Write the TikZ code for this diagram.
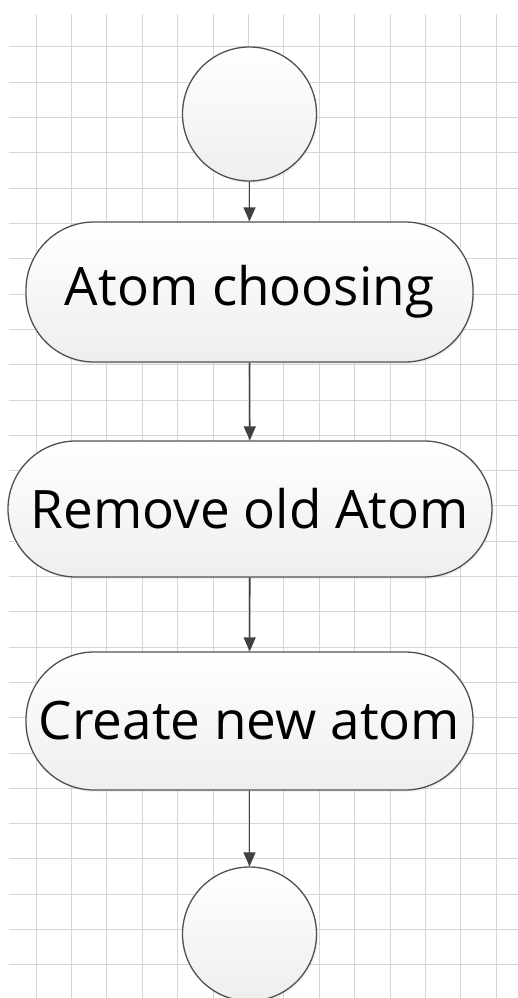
\documentclass[tikz,border=0pt]{standalone}
\usepackage{fontspec}
\setmainfont{Open Sans}
\usetikzlibrary{arrows.meta,shadows}
\definecolor{gridc}{RGB}{214,214,214}
\definecolor{edgec}{RGB}{80,80,80}
\definecolor{arrc}{RGB}{64,64,64}
\definecolor{fillbot}{RGB}{238,238,238}
\tikzset{
  shapebase/.style={draw=edgec, line width=1.3pt, top color=white, bottom color=fillbot,
    drop shadow={opacity=0.10, shadow xshift=1.5pt, shadow yshift=-2pt}},
  termcircle/.style={shapebase, circle, minimum size=134pt, inner sep=0pt},
  stepbox/.style={shapebase, rectangle, rounded corners=68pt, minimum height=140pt,
    inner sep=0pt, font=\fontsize{53}{60}\selectfont},
  flowarrow/.style={draw=arrc, line width=1.4pt, -{Triangle[width=12pt,length=14pt]}},
  gridline/.style={draw=gridc, line width=1pt}
}
\begin{document}
\begin{tikzpicture}[x=1pt,y=-1pt]
\useasboundingbox (0,0) rectangle (518,998);
\fill[white] (0,0) rectangle (518,998);
% grid
\foreach \k in {0,...,13} {
  \draw[gridline] ({36+35.4*\k},14) -- ({36+35.4*\k},998);
}
\foreach \k in {0,...,26} {
  \draw[gridline] (9,{47+35.3*\k}) -- (518,{47+35.3*\k});
}
% nodes
\node[termcircle] (c1) at (249.5,114) {};
\node[stepbox, minimum width=447pt] (b1) at (249.5,292) {Atom choosing};
\node[stepbox, minimum width=484pt, minimum height=136pt] (b2) at (250,509) {Remove old Atom};
\node[stepbox, minimum width=447pt, minimum height=138pt] (b3) at (249.5,721) {Create new atom};
\node[termcircle] (c2) at (249.5,934) {};
% connectors
\draw[flowarrow] (c1) -- (b1);
\draw[flowarrow] (b1) -- (b2);
\draw[flowarrow] (b2) -- (b3);
\draw[flowarrow] (b3) -- (c2);
\end{tikzpicture}
\end{document}
